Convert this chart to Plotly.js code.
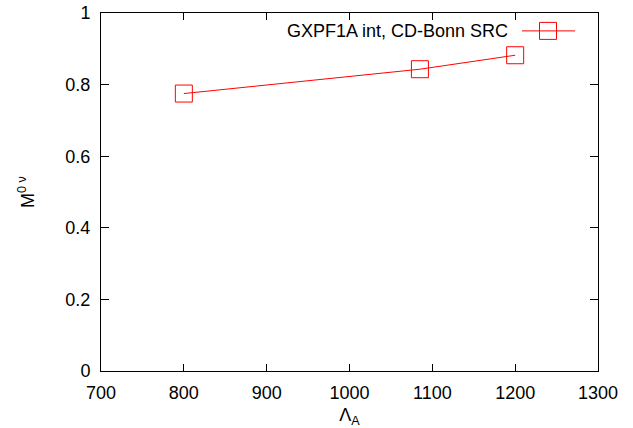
<!DOCTYPE html>
<html>
<head>
<meta charset="utf-8">
<script src="https://cdn.plot.ly/plotly-3.0.1.min.js"></script>
<style>html,body{margin:0;padding:0;background:#fff;}#chart{width:633px;height:428px;}</style>
</head>
<body>
<div id="chart"></div>
<script>
const lambdaA = [800, 1085, 1200];
const m0nu = [0.775, 0.843, 0.882];
const seriesName = "GXPF1A int, CD-Bonn SRC";
const xTicks = [700, 800, 900, 1000, 1100, 1200, 1300];
const yTicks = [0, 0.2, 0.4, 0.6, 0.8, 1];
const yTickText = ["0", "0.2", "0.4", "0.6", "0.8", "1"];

const font = {family: "Liberation Sans, Arial, sans-serif", size: 18, color: "#000"};

const trace = {
  x: lambdaA, y: m0nu, type: "scatter", mode: "lines+markers",
  name: seriesName, showlegend: false,
  line: {color: "#ff0000", width: 1},
  marker: {symbol: "square-open", size: 17, color: "#ff0000", line: {width: 1, color: "#ff0000"}}
};

// legend key (paper coords)
const lx0 = 0.847, lx1 = 0.954, lcx = 0.8994, ly = 0.95;
const hx = 8.5 / 497, hy = 8.5 / 358;

const layout = {
  width: 633, height: 428,
  margin: {l: 101, r: 35, t: 13, b: 57},
  paper_bgcolor: "#fff", plot_bgcolor: "#fff",
  font: font,
  showlegend: false,
  xaxis: {
    range: [700, 1300], tickmode: "array", tickvals: xTicks, ticktext: xTicks.map(String),
    ticks: "inside", ticklen: 7, tickwidth: 1, tickcolor: "#000",
    showline: true, linecolor: "#000", linewidth: 1, mirror: "ticks",
    showgrid: false, zeroline: false, tickfont: font, ticklabelstandoff: 5,
    title: {text: "Λ<sub>A</sub>", font: font, standoff: 8}
  },
  yaxis: {
    range: [0, 1], tickmode: "array", tickvals: yTicks, ticktext: yTickText,
    ticks: "inside", ticklen: 8, tickwidth: 1, tickcolor: "#000",
    showline: true, linecolor: "#000", linewidth: 1, mirror: "ticks",
    showgrid: false, zeroline: false, tickfont: font, ticklabelstandoff: 6,
    title: {text: "M<sup>0 ν</sup>", font: font, standoff: 26}
  },
  annotations: [{
    xref: "paper", yref: "paper", x: 0.823, y: ly, xanchor: "right", yanchor: "middle",
    text: seriesName, showarrow: false, font: font
  }],
  shapes: [
    {type: "line", xref: "paper", yref: "paper", x0: lx0, x1: lx1, y0: ly, y1: ly, line: {color: "#ff0000", width: 1}},
    {type: "rect", xref: "paper", yref: "paper", x0: lcx - hx, x1: lcx + hx, y0: ly - hy, y1: ly + hy, line: {color: "#ff0000", width: 1}}
  ]
};

Plotly.newPlot("chart", [trace], layout, {displayModeBar: false, staticPlot: true});
</script>
</body>
</html>
